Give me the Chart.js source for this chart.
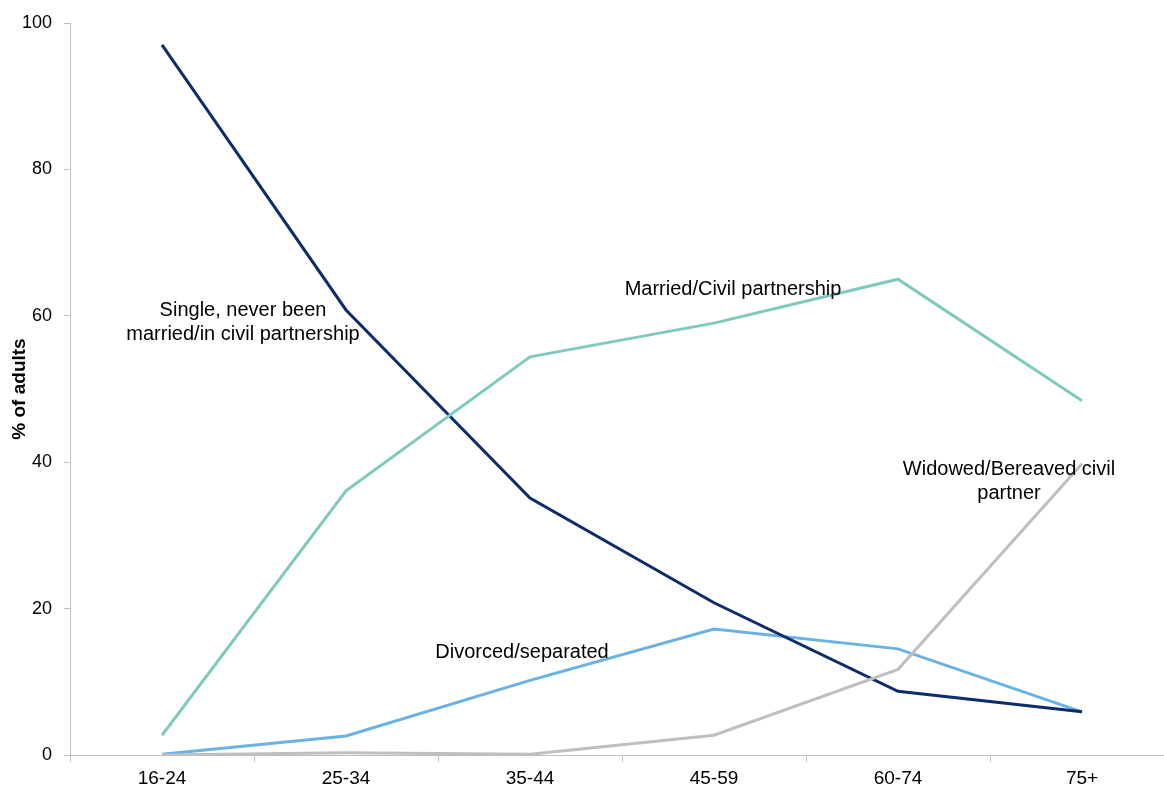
<!DOCTYPE html>
<html>
<head>
<meta charset="utf-8">
<script src="https://cdn.jsdelivr.net/npm/chart.js@4.4.1/dist/chart.umd.min.js"></script>
<style>
  html, body { margin: 0; padding: 0; background: #fff; overflow: hidden; }
  #wrap { width: 1180px; height: 787px; }
</style>
</head>
<body>
<div id="wrap"><canvas id="chart" width="1180" height="787"></canvas></div>
<script>
// Age bands
const ageBands = ["16-24", "25-34", "35-44", "45-59", "60-74", "75+"];

// % of adults by marital status
const single   = [97.0, 60.8, 35.1, 20.8, 8.7, 5.9];
const married  = [2.7, 36.1, 54.4, 59.0, 65.0, 48.4];
const divorced = [0.1, 2.6, 10.2, 17.2, 14.5, 5.9];
const widowed  = [0.0, 0.3, 0.1, 2.7, 11.7, 39.8];

const yTicks = [0, 20, 40, 60, 80, 100];

// in-chart series labels
const notes = [
  { lines: ["Single, never been", "married/in civil partnership"], x: 243, y: 310 },
  { lines: ["Married/Civil partnership"], x: 733, y: 289 },
  { lines: ["Divorced/separated"], x: 522, y: 652 },
  { lines: ["Widowed/Bereaved civil", "partner"], x: 1009, y: 469 }
];

const FONT = "'Liberation Sans', Arial, sans-serif";
const AXIS = "#bfbfbf";

const notesPlugin = {
  id: "notes",
  afterDatasetsDraw(chart) {
    const ctx = chart.ctx;
    ctx.save();
    ctx.font = "20px " + FONT;
    ctx.fillStyle = "#000";
    ctx.textAlign = "center";
    ctx.textBaseline = "middle";
    notes.forEach(n => {
      n.lines.forEach((t, i) => ctx.fillText(t, n.x, n.y + i * 24));
    });
    ctx.restore();
  }
};

const line = (data, color) => ({
  data,
  borderColor: color,
  backgroundColor: color,
  borderWidth: 3,
  pointRadius: 0,
  tension: 0,
  fill: false
});

new Chart(document.getElementById("chart"), {
  type: "line",
  data: {
    labels: ageBands,
    datasets: [
      line(widowed, "#bfbfbf"),
      line(married, "#7ecabc"),
      line(single, "#0b2d6b"),
      line(divorced, "#6ab1e5")
    ]
  },
  options: {
    responsive: false,
    animation: false,
    layout: { padding: { top: 23, right: 6, left: 0, bottom: 0 } },
    plugins: { legend: { display: false }, tooltip: { enabled: false } },
    scales: {
      x: {
        offset: true,
        grid: { drawOnChartArea: false, color: AXIS, tickLength: 7, offset: true },
        border: { color: AXIS, width: 1 },
        ticks: { color: "#000", font: { family: FONT, size: 19 }, padding: 5, maxRotation: 0 },
        afterFit(s) { s.height = 32; }
      },
      y: {
        min: 0,
        max: 100,
        afterBuildTicks(s) { s.ticks = yTicks.map(v => ({ value: v })); },
        grid: { drawOnChartArea: false, color: AXIS, tickLength: 6 },
        border: { color: AXIS, width: 1 },
        ticks: { color: "#000", font: { family: FONT, size: 18 }, padding: 12 },
        title: {
          display: true,
          text: "% of adults",
          color: "#000",
          font: { family: FONT, size: 19, weight: "bold" },
          padding: { top: 8, bottom: 0 }
        },
        afterFit(s) { s.width = 70; }
      }
    }
  },
  plugins: [notesPlugin]
});
</script>
</body>
</html>
